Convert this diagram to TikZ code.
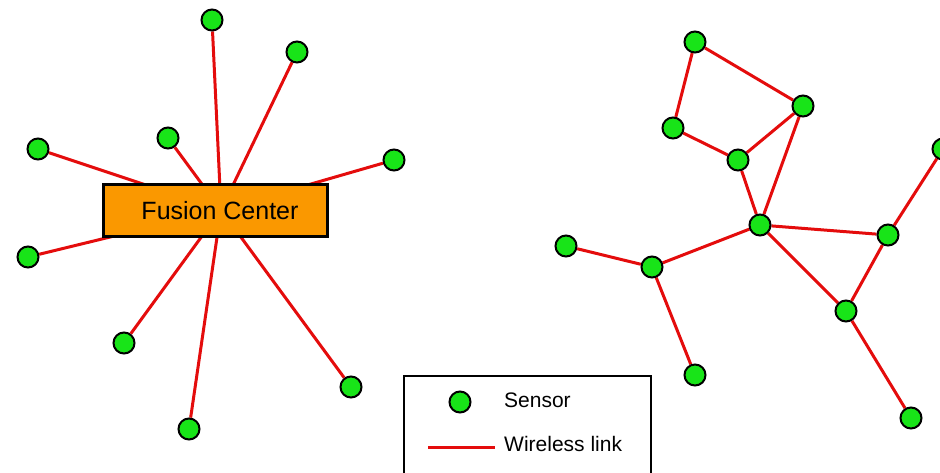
\documentclass[tikz,border=0pt]{standalone}
\usepackage{fontspec}
\setmainfont{Liberation Sans}
\usetikzlibrary{backgrounds}
\definecolor{sensorgreen}{RGB}{24,228,24}
\definecolor{linkred}{RGB}{228,12,12}
\definecolor{fusionorange}{RGB}{250,152,0}
\begin{document}
\begin{tikzpicture}[x=1pt,y=-1pt,
  sensor/.style={circle,draw=black,line width=2pt,fill=sensorgreen,minimum size=21pt,inner sep=0pt},
  link/.style={draw=linkred,line width=3pt},
  fusionbox/.style={draw=black,line width=3pt,fill=fusionorange,minimum width=224pt,minimum height=52pt,inner sep=0pt,font=\fontsize{25}{30}\selectfont},
  legendtext/.style={anchor=west,inner sep=0pt,font=\fontsize{21}{25}\selectfont},
]
\useasboundingbox (0,0) rectangle (940,472);
\clip (0,0) rectangle (940,472);

% ---------- centralised network ----------
\node[fusionbox] (fc) at (215.5,210.5) {\hspace{9pt}Fusion Center};
\coordinate (hub) at (221,210);
\node[sensor] (c1) at (212,20) {};
\node[sensor] (c2) at (297,52) {};
\node[sensor] (c3) at (168,138) {};
\node[sensor] (c4) at (38,149) {};
\node[sensor] (c5) at (394,160) {};
\node[sensor] (c6) at (28,257) {};
\node[sensor] (c7) at (124,343) {};
\node[sensor] (c8) at (189,429) {};
\node[sensor] (c9) at (351,387) {};
\begin{scope}[on background layer]
  \foreach \s in {c1,c2,c3,c4,c5,c6,c7,c8,c9}
    \draw[link] (\s) -- (hub);
\end{scope}

% ---------- distributed network ----------
\node[sensor] (r1) at (695,42) {};
\node[sensor] (r2) at (803,106) {};
\node[sensor] (r3) at (673,128) {};
\node[sensor] (r4) at (738,160) {};
\node[sensor] (r5) at (760,225) {};
\node[sensor] (r6) at (888,235) {};
\node[sensor] (r7) at (943,149) {};
\node[sensor] (r8) at (566,246) {};
\node[sensor] (r9) at (652,267) {};
\node[sensor] (r10) at (846,311) {};
\node[sensor] (r11) at (695,375) {};
\node[sensor] (r12) at (911,418) {};
\begin{scope}[on background layer]
  \foreach \a/\b in {r1/r2,r1/r3,r3/r4,r4/r2,r2/r5,r4/r5,r5/r9,r9/r8,r9/r11,
                     r5/r6,r5/r10,r6/r10,r6/r7,r10/r12}
    \draw[link] (\a) -- (\b);
\end{scope}

% ---------- legend ----------
\draw[black,line width=2pt] (404,376) rectangle (651,490);
\node[sensor] (lgsensor) at (460,402) {};
\node[legendtext] (lgsensortext) at (504,400) {Sensor};
\coordinate (lglinea) at (428,447);
\coordinate (lglineb) at (495,447);
\draw[link] (lglinea) -- (lglineb);
\node[legendtext] (lglinktext) at (504,444) {Wireless link};
\end{tikzpicture}
\end{document}
